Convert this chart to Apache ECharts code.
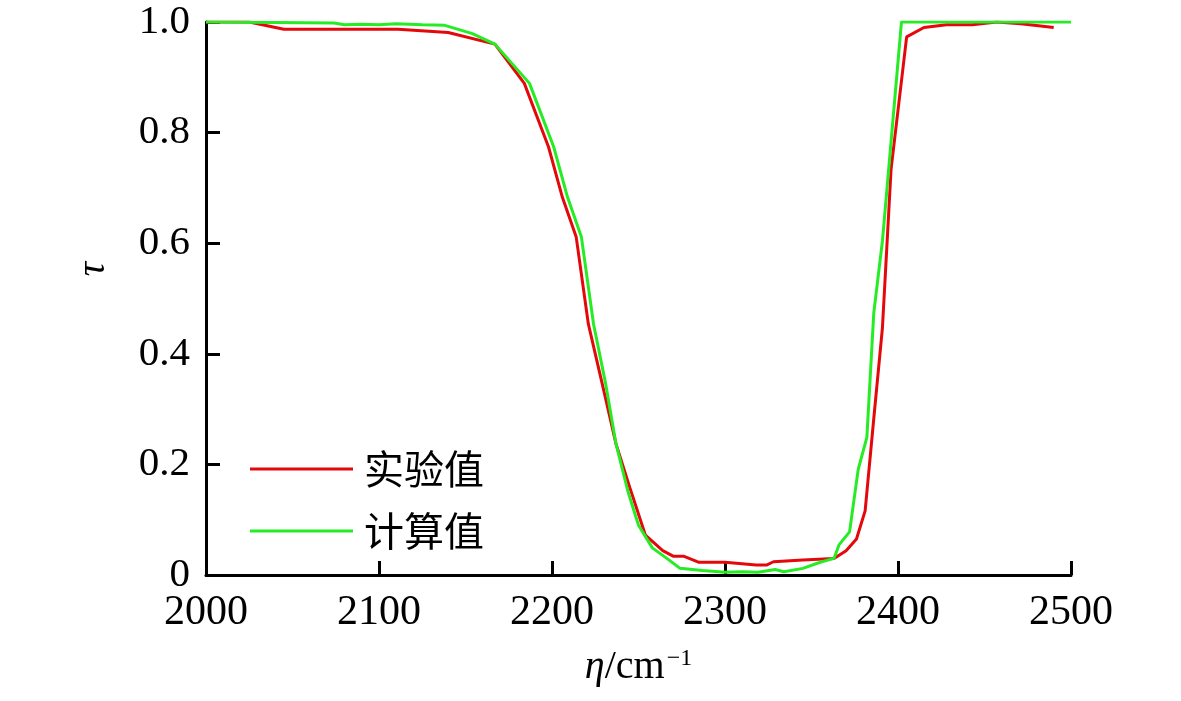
<!DOCTYPE html>
<html>
<head>
<meta charset="utf-8">
<script src="https://cdn.jsdelivr.net/npm/echarts@6/dist/echarts.min.js"></script>
<style>html,body{margin:0;padding:0;background:#fff;}#c{width:1181px;height:701px;}</style>
</head>
<body>
<div id="c"></div>
<script>
// Experimental (实验值)
var expX = [2000,2025,2045,2111,2140,2167,2184,2198,2206,2214,2221,2229,2237,2245,2254,2264,2270,2276,2285,2300,2318,2324,2328,2345,2363,2370,2376,2381,2386,2391,2396,2405,2415,2428,2443,2457,2471,2490];
var expY = [1.0,1.0,0.987,0.987,0.981,0.960,0.889,0.774,0.683,0.611,0.454,0.346,0.237,0.158,0.072,0.044,0.034,0.034,0.023,0.023,0.018,0.018,0.024,0.027,0.030,0.044,0.065,0.116,0.283,0.447,0.734,0.973,0.990,0.995,0.995,1.0,0.997,0.990];
// Calculated (计算值)
var calX = [2000,2040,2074,2080,2090,2100,2110,2125,2138,2154,2167,2187,2201,2209,2217,2224,2231,2237,2244,2250,2258,2266,2274,2287,2300,2310,2319,2329,2334,2345,2355,2363,2366,2372,2377,2382,2386,2391,2402,2500];
var calY = [1.0,0.999,0.998,0.995,0.996,0.995,0.997,0.995,0.994,0.979,0.960,0.889,0.774,0.683,0.611,0.454,0.346,0.237,0.150,0.090,0.049,0.031,0.012,0.008,0.005,0.006,0.005,0.010,0.006,0.012,0.023,0.030,0.055,0.078,0.191,0.249,0.474,0.604,1.0,1.0];
var seriesNames = ['实验值','计算值'];
var xTicks = {min:2000, max:2500, interval:100};
var yTicks = {min:0, max:1, interval:0.2};

function pairs(xs, ys){ return xs.map(function(x,i){ return [x, ys[i]]; }); }

var serif = '"Liberation Serif","Times New Roman",serif';
var chart = echarts.init(document.getElementById('c'));
chart.setOption({
  animation:false,
  backgroundColor:'#fff',
  grid:{left:206, right:110, top:22, bottom:126, containLabel:false},
  legend:{
    orient:'vertical', left:245, top:444, itemWidth:103, itemHeight:3, itemGap:22, icon:'rect',
    textStyle:{fontSize:40, fontFamily:'"Noto Sans CJK SC",sans-serif', color:'#000', padding:[0,0,0,6]},
    data:seriesNames
  },
  xAxis:{
    type:'value', min:xTicks.min, max:xTicks.max, interval:xTicks.interval,
    axisLine:{lineStyle:{color:'#000', width:3}},
    axisTick:{inside:true, length:14, lineStyle:{color:'#000', width:3}},
    axisLabel:{fontSize:42, fontFamily:serif, color:'#000', margin:17,
      formatter:function(v){ return String(v); }},
    splitLine:{show:false},
    name:'{i|η}{n|/cm}{s|−1}', nameLocation:'middle', nameGap:72,
    nameTextStyle:{rich:{
      i:{fontSize:40, fontFamily:serif, fontStyle:'italic', color:'#000'},
      n:{fontSize:40, fontFamily:serif, color:'#000'},
      s:{fontSize:24, fontFamily:serif, color:'#000', verticalAlign:'top', padding:[0,0,14,2]}
    }}
  },
  yAxis:{
    type:'value', min:yTicks.min, max:yTicks.max, interval:yTicks.interval,
    axisLine:{show:true, lineStyle:{color:'#000', width:3}},
    axisTick:{show:true, inside:true, length:14, lineStyle:{color:'#000', width:3}},
    axisLabel:{fontSize:41, fontFamily:serif, color:'#000', margin:16,
      formatter:function(v){ return v===0 ? '0' : v.toFixed(1); }},
    splitLine:{show:false}
  },
  graphic:[{
    type:'text', x:93, y:269, rotation:Math.PI/2,
    style:{text:'τ', font:'italic 40px "Liberation Serif","Times New Roman",serif', fill:'#000', align:'center', verticalAlign:'middle'}
  }],
  series:[
    {name:seriesNames[0], type:'line', symbol:'none', data:pairs(expX, expY),
     lineStyle:{color:'#e4080a', width:3}, itemStyle:{color:'#e4080a'}, z:2},
    {name:seriesNames[1], type:'line', symbol:'none', data:pairs(calX, calY),
     lineStyle:{color:'#25ec25', width:3}, itemStyle:{color:'#25ec25'}, z:3}
  ]
});
</script>
</body>
</html>
